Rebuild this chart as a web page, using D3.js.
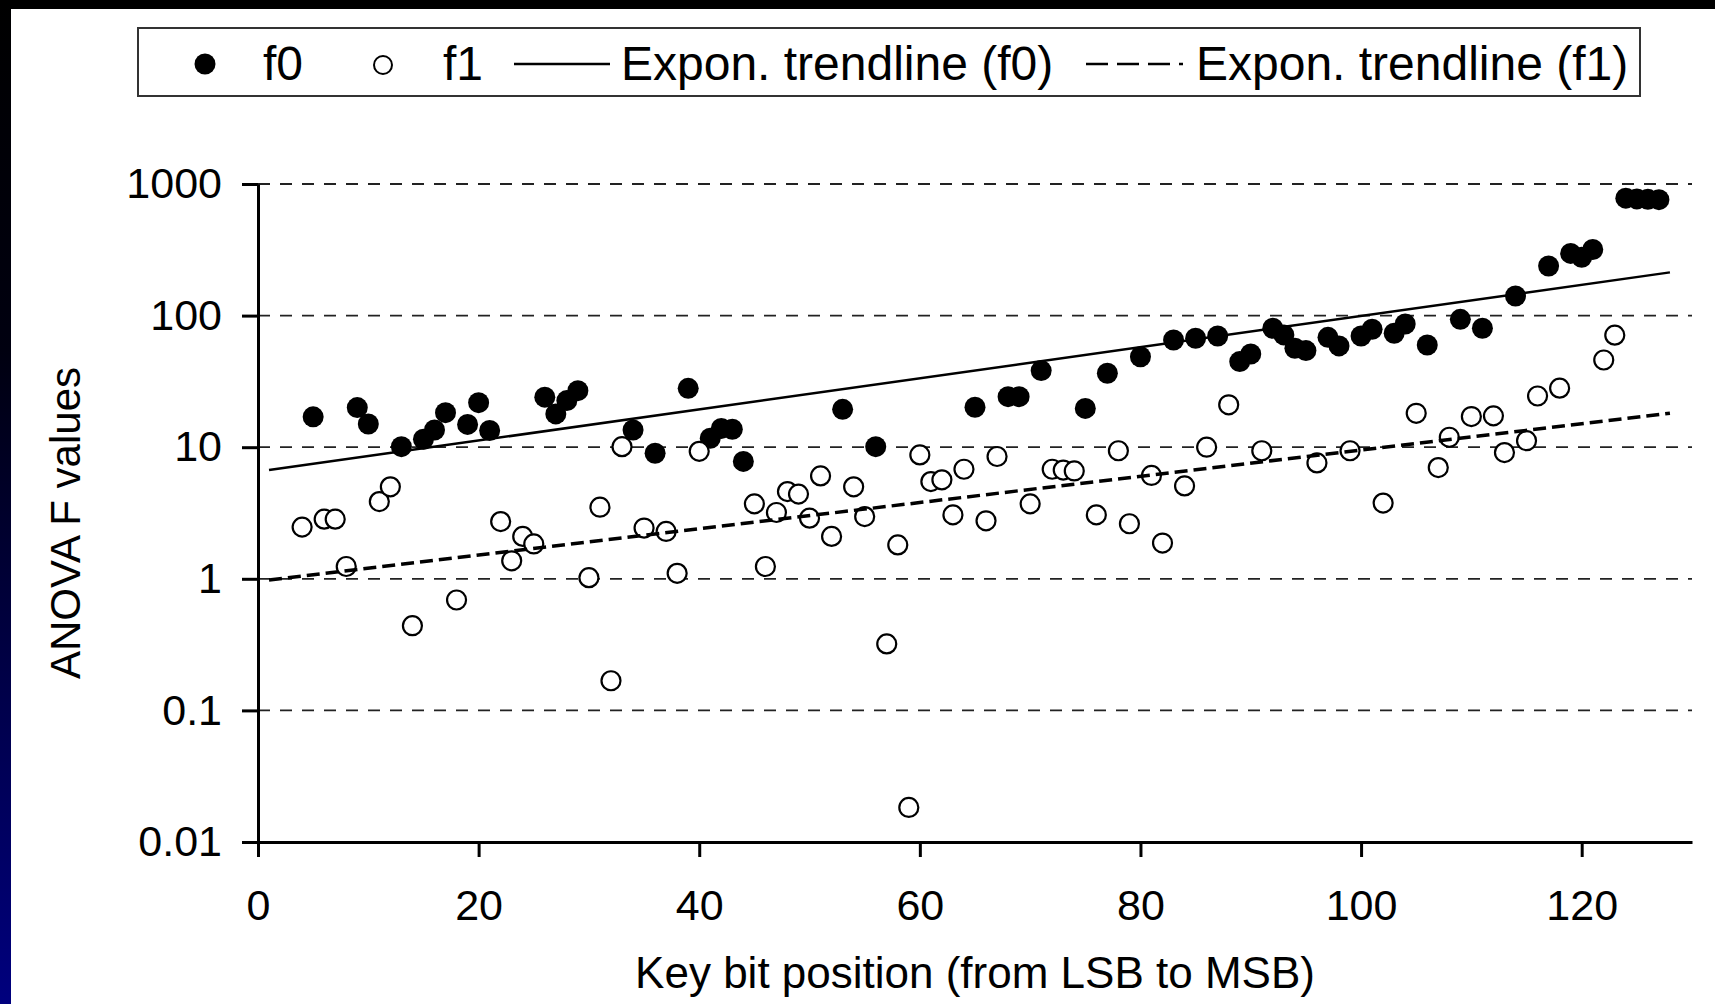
<!DOCTYPE html>
<html>
<head>
<meta charset="utf-8">
<script src="https://cdn.jsdelivr.net/npm/d3@7"></script>
<style>
  body { margin: 0; background: #fff; }
  svg { display: block; font-family: "Liberation Sans", Arial, sans-serif; }
</style>
</head>
<body>
<div class="scatter-plot"></div>
<script>
// key bit positions and F values
const f0Bits = [5,9,10,13,15,16,17,19,20,21,26,27,28,29,34,36,39,41,42,43,44,53,56,65,68,69,71,75,77,80,83,85,87,89,90,92,93,94,95,97,98,100,101,103,104,106,109,111,114,117,119,120,121,124,125,126,127];
const f0Values = [17,20,15,10.1,11.5,13.5,18.3,14.9,21.8,13.4,24,17.9,22.6,26.9,13.5,9.0,28,11.7,13.9,13.7,7.8,19.4,10.1,20.1,24.2,24.2,38.2,19.7,36.5,48.7,65.3,67.3,70,44.7,51.1,80.1,71.3,56.5,54.2,68.4,58.8,70,78.7,73.4,86.3,59.8,93.7,80.1,141,238,297,277,318,780,770,765,760];

const f1Bits = [4,6,7,8,11,12,14,18,22,23,24,25,30,31,32,33,35,37,38,40,45,46,47,48,49,50,51,52,54,55,57,58,59,60,61,62,63,64,66,67,70,72,73,74,76,78,79,81,82,84,86,88,91,96,99,102,105,107,108,110,112,113,115,116,118,122,123];
const f1Values = [2.47,2.84,2.84,1.24,3.86,5.0,0.44,0.69,2.72,1.37,2.1,1.84,1.02,3.5,0.168,10.1,2.43,2.29,1.1,9.3,3.71,1.24,3.19,4.6,4.4,2.89,6.05,2.1,5.0,2.97,0.32,1.81,0.0183,8.74,5.48,5.65,3.06,6.8,2.76,8.5,3.71,6.8,6.7,6.6,3.06,9.4,2.62,6.1,1.87,5.08,10.0,21,9.4,7.6,9.4,3.76,18.1,7.0,11.9,17.1,17.3,9.1,11.2,24.5,28.1,46,71];

// trendline end points (straight on the log axis)
const f0TrendBits = [1, 128];
const f0TrendValues = [6.7, 213];
const f1TrendBits = [1, 128];
const f1TrendValues = [0.98, 18.1];

const yTicks = [0.01, 0.1, 1, 10, 100, 1000];
const yTickLabels = ["0.01", "0.1", "1", "10", "100", "1000"];
const xTicks = [0, 20, 40, 60, 80, 100, 120];
const legendLabels = ["f0", "f1", "Expon. trendline (f0)", "Expon. trendline (f1)"];

function main(){
    const W = 1715, H = 1004;
    const svg = d3.select(".scatter-plot")
                    .append("svg")
                    .attr("width", W)
                    .attr("height", H);

    // slide background bits
    const grad = svg.append("defs").append("linearGradient")
                    .attr("id", "side").attr("x1", 0).attr("y1", 0).attr("x2", 0).attr("y2", 1);
    grad.append("stop").attr("offset", "0%").attr("stop-color", "#000");
    grad.append("stop").attr("offset", "35%").attr("stop-color", "#000010");
    grad.append("stop").attr("offset", "100%").attr("stop-color", "#00007e");
    svg.append("rect").attr("width", W).attr("height", H).attr("fill", "#fff");
    svg.append("rect").attr("width", W).attr("height", 9).attr("fill", "#000");
    svg.append("rect").attr("y", 0).attr("width", 11).attr("height", H).attr("fill", "url(#side)");

    //scales
    const xScale = d3.scaleLinear().domain([0, 130]).range([258, 1692]);
    const yScale = d3.scaleLog().domain([0.01, 1000]).range([842, 184]);

    //gridlines
    svg.append("g").selectAll("line")
        .data(yTicks.filter(d => d > 0.01))
        .enter()
        .append("line")
        .attr("x1", xScale(0))
        .attr("x2", xScale(130))
        .attr("y1", d => yScale(d))
        .attr("y2", d => yScale(d))
        .attr("stroke", "#222")
        .attr("stroke-width", 1.8)
        .attr("stroke-dasharray", "12,10");

    //axes
    const yAxis = d3.axisLeft(yScale)
                    .tickValues(yTicks)
                    .tickFormat((d, i) => yTickLabels[i])
                    .tickSize(16)
                    .tickPadding(20)
                    .tickSizeOuter(0);
    const xAxis = d3.axisBottom(xScale)
                    .tickValues(xTicks)
                    .tickSize(15)
                    .tickPadding(32)
                    .tickSizeOuter(0);

    svg.append("g")
        .attr("class", "axis y-axis")
        .attr("transform", `translate(${xScale(0)},0)`)
        .call(yAxis);
    svg.append("g")
        .attr("class", "axis x-axis")
        .attr("transform", `translate(0,${yScale(0.01)})`)
        .call(xAxis);

    svg.selectAll(".axis path, .axis line")
        .attr("stroke", "#000")
        .attr("stroke-width", 3);
    svg.selectAll(".axis text")
        .attr("fill", "#000")
        .attr("font-size", 43)
        .attr("font-family", "Liberation Sans, Arial, sans-serif");

    //points
    svg.append("g").selectAll("circle")
        .data(f0Bits.map((b, i) => ({bit: b, v: f0Values[i]})))
        .enter()
        .append("circle")
        .attr("cx", d => xScale(d.bit))
        .attr("cy", d => yScale(d.v))
        .attr("r", 10.5)
        .attr("fill", "#000");

    svg.append("g").selectAll("circle")
        .data(f1Bits.map((b, i) => ({bit: b, v: f1Values[i]})))
        .enter()
        .append("circle")
        .attr("cx", d => xScale(d.bit))
        .attr("cy", d => yScale(d.v))
        .attr("r", 9.5)
        .attr("fill", "#fff")
        .attr("stroke", "#000")
        .attr("stroke-width", 2.2);

    //trendlines
    const line = d3.line().x(d => xScale(d[0])).y(d => yScale(d[1]));
    svg.append("path")
        .datum(f0TrendBits.map((b, i) => [b, f0TrendValues[i]]))
        .attr("d", line)
        .attr("fill", "none")
        .attr("stroke", "#000")
        .attr("stroke-width", 2.5);
    svg.append("path")
        .datum(f1TrendBits.map((b, i) => [b, f1TrendValues[i]]))
        .attr("d", line)
        .attr("fill", "none")
        .attr("stroke", "#000")
        .attr("stroke-width", 3.5)
        .attr("stroke-dasharray", "13,6");

    //axis titles
    svg.append("text")
        .attr("x", (xScale(0) + xScale(130)) / 2)
        .attr("y", 988)
        .attr("text-anchor", "middle")
        .attr("font-size", 44)
        .text("Key bit position (from LSB to MSB)");

    svg.append("text")
        .attr("transform", "translate(80,523) rotate(-90)")
        .attr("text-anchor", "middle")
        .attr("font-size", 42)
        .text("ANOVA F values");

    //legend
    const legend = svg.append("g").attr("class", "legend");
    legend.append("rect")
        .attr("x", 138).attr("y", 28)
        .attr("width", 1502).attr("height", 68)
        .attr("fill", "#fff")
        .attr("stroke", "#333")
        .attr("stroke-width", 2);
    legend.append("circle").attr("cx", 205).attr("cy", 64).attr("r", 10.5).attr("fill", "#000");
    legend.append("circle").attr("cx", 383).attr("cy", 65).attr("r", 9)
        .attr("fill", "#fff").attr("stroke", "#000").attr("stroke-width", 2);
    legend.append("line").attr("x1", 514).attr("x2", 610).attr("y1", 64).attr("y2", 64)
        .attr("stroke", "#000").attr("stroke-width", 2.5);
    legend.append("line").attr("x1", 1086).attr("x2", 1183).attr("y1", 64).attr("y2", 64)
        .attr("stroke", "#000").attr("stroke-width", 2.5).attr("stroke-dasharray", "22,9");

    const labelX = [263, 443, 621, 1196];
    legend.selectAll("text")
        .data(legendLabels)
        .enter()
        .append("text")
        .attr("x", (d, i) => labelX[i])
        .attr("y", 80)
        .attr("font-size", 48)
        .text(d => d);
}

main();
</script>
</body>
</html>
